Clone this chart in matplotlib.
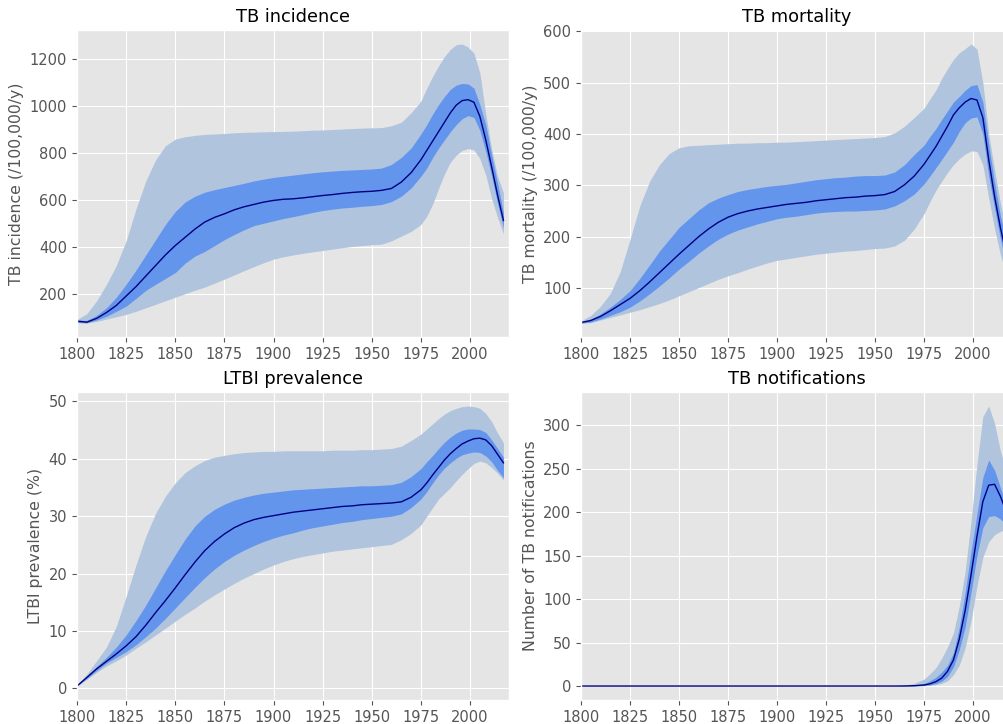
import matplotlib
matplotlib.use("Agg")
import matplotlib.pyplot as plt

plt.style.use("ggplot")

# model output: median, 50% and 95% credible intervals
years = list(range(1800, 1976, 5)) + list(range(1978, 2018, 3))

inc_mid = [83, 79, 95, 120, 150, 190, 230, 275, 320, 365,
           405, 440, 475, 505, 525, 540, 557, 570, 580, 590,
           597, 602, 604, 608, 613, 618, 622, 627, 631, 634,
           636, 640, 648, 675, 715, 770, 810, 850, 890, 930,
           970, 1003, 1022, 1026, 1015, 955, 855, 740, 620, 512]
inc_hi50 = [88, 86, 108, 140, 185, 240, 300, 365, 430, 495,
            550, 590, 615, 632, 643, 652, 661, 670, 680, 688,
            695, 700, 705, 710, 715, 719, 722, 725, 727, 729,
            731, 735, 750, 780, 820, 880, 920, 965, 1005, 1040,
            1070, 1088, 1095, 1093, 1075, 1005, 920, 790, 670, 545]
inc_lo50 = [78, 76, 88, 104, 125, 147, 180, 214, 240, 265,
            290, 330, 360, 380, 405, 430, 452, 472, 490, 500,
            510, 520, 528, 537, 546, 554, 560, 565, 568, 572,
            575, 580, 592, 615, 650, 700, 735, 780, 820, 855,
            890, 920, 945, 958, 950, 895, 805, 700, 585, 480]
inc_hi95 = [90, 115, 170, 240, 320, 425, 560, 680, 770, 830,
            858, 868, 874, 878, 880, 882, 885, 887, 888, 889,
            890, 891, 892, 894, 896, 897, 899, 901, 903, 905,
            906, 907, 915, 930, 970, 1020, 1075, 1125, 1170, 1210,
            1240, 1260, 1263, 1250, 1224, 1140, 965, 815, 700, 630]
inc_lo95 = [76, 75, 82, 92, 102, 112, 125, 140, 155, 170,
            185, 200, 215, 228, 245, 262, 280, 298, 315, 332,
            347, 357, 365, 372, 378, 384, 390, 396, 401, 405,
            408, 411, 425, 445, 465, 495, 530, 582, 648, 710,
            760, 790, 810, 818, 812, 775, 705, 605, 525, 455]

mort_mid = [33, 37, 45, 56, 68, 80, 95, 112, 130, 148,
            166, 183, 200, 215, 228, 238, 245, 250, 254, 257,
            260, 263, 265, 267, 270, 272, 274, 276, 277, 279,
            280, 282, 288, 301, 318, 341, 358, 375, 395, 415,
            437, 451, 462, 469, 466, 432, 350, 278, 217, 165]
mort_hi50 = [35, 40, 50, 63, 78, 95, 119, 145, 172, 195,
             218, 235, 252, 266, 275, 282, 288, 292, 295, 298,
             300, 302, 305, 308, 311, 313, 315, 316, 318, 319,
             319, 320, 326, 340, 360, 378, 395, 410, 428, 445,
             462, 473, 485, 494, 496, 462, 380, 305, 240, 190]
mort_lo50 = [32, 34, 40, 47, 54, 63, 75, 89, 104, 120,
             137, 152, 168, 182, 195, 205, 213, 219, 225, 230,
             235, 238, 240, 243, 246, 248, 249, 250, 250, 251,
             252, 254, 260, 270, 283, 303, 318, 334, 350, 367,
             384, 405, 422, 431, 433, 400, 318, 255, 195, 145]
mort_hi95 = [36, 47, 65, 90, 132, 195, 260, 308, 340, 362,
             373, 377, 378, 379, 380, 381, 382, 382, 383, 383,
             384, 384, 385, 386, 387, 388, 389, 390, 391, 392,
             393, 395, 402, 415, 432, 450, 468, 485, 508, 527,
             545, 558, 566, 575, 565, 500, 400, 330, 265, 210]
mort_lo95 = [32, 33, 38, 43, 48, 53, 58, 64, 70, 77,
             85, 93, 101, 109, 117, 124, 130, 137, 143, 149,
             154, 157, 160, 163, 166, 168, 170, 172, 173, 175,
             177, 178, 182, 193, 215, 245, 268, 290, 308, 325,
             340, 352, 361, 367, 366, 340, 275, 215, 165, 125]

ltbi_mid = [0.4, 1.9, 3.4, 4.7, 6.0, 7.4, 9.0, 11.0, 13.2, 15.3,
            17.5, 19.8, 22.0, 24.0, 25.6, 26.9, 28.0, 28.8, 29.4, 29.8,
            30.1, 30.4, 30.7, 30.9, 31.1, 31.3, 31.5, 31.7, 31.8, 32.0,
            32.1, 32.2, 32.3, 32.5, 33.3, 34.6, 35.8, 37.2, 38.5, 39.8,
            40.9, 41.8, 42.6, 43.1, 43.5, 43.6, 43.3, 42.3, 40.8, 39.3]
ltbi_hi50 = [0.5, 2.1, 3.8, 5.4, 7.2, 9.3, 11.8, 14.5, 17.5, 20.5,
             23.3, 26.0, 28.3, 30.0, 31.2, 32.1, 32.8, 33.3, 33.7, 34.0,
             34.2, 34.4, 34.6, 34.7, 34.8, 34.9, 35.0, 35.1, 35.2, 35.3,
             35.3, 35.4, 35.5, 35.9, 36.9, 38.3, 39.5, 40.6, 41.8, 42.9,
             43.8, 44.5, 45.0, 45.2, 45.2, 45.1, 44.6, 43.3, 41.8, 40.3]
ltbi_lo50 = [0.4, 1.7, 3.1, 4.4, 5.4, 6.4, 7.6, 9.0, 10.5, 12.2,
             14.0, 15.8, 17.6, 19.3, 20.8, 22.1, 23.2, 24.1, 24.9, 25.6,
             26.2, 26.7, 27.1, 27.6, 28.0, 28.3, 28.6, 28.9, 29.1, 29.4,
             29.6, 29.8, 30.0, 30.4, 31.5, 33.0, 34.3, 35.8, 37.2, 38.4,
             39.3, 40.1, 40.7, 41.0, 41.2, 41.1, 40.5, 39.5, 38.0, 36.7]
ltbi_hi95 = [0.5, 2.5, 4.8, 7.2, 10.8, 16.0, 21.5, 26.5, 30.5, 33.5,
             35.8, 37.6, 38.8, 39.7, 40.3, 40.6, 40.9, 41.1, 41.2, 41.3,
             41.3, 41.4, 41.4, 41.4, 41.4, 41.4, 41.5, 41.5, 41.5, 41.6,
             41.6, 41.7, 41.8, 42.2, 43.2, 44.3, 45.2, 46.1, 47.0, 47.8,
             48.4, 48.8, 49.1, 49.2, 49.1, 48.8, 47.9, 46.5, 44.5, 42.8]
ltbi_lo95 = [0.4, 1.6, 2.8, 3.9, 4.8, 5.8, 7.0, 8.1, 9.3, 10.5,
             11.7, 12.9, 14.0, 15.2, 16.3, 17.3, 18.3, 19.2, 20.0, 20.8,
             21.5, 22.1, 22.6, 23.0, 23.3, 23.6, 23.9, 24.1, 24.3, 24.5,
             24.7, 24.9, 25.1, 25.9, 27.0, 28.5, 30.0, 31.5, 33.0, 34.0,
             35.0, 36.2, 37.3, 38.3, 39.2, 39.6, 39.3, 38.5, 37.5, 36.3]

notif_mid = [0, 0, 0, 0, 0, 0, 0, 0, 0, 0,
             0, 0, 0, 0, 0, 0, 0, 0, 0, 0,
             0, 0, 0, 0, 0, 0, 0, 0, 0, 0,
             0, 0, 0, 0.1, 0.4, 1.2, 2.5, 5, 9, 17,
             30, 54, 87, 128, 172, 212, 231, 232, 218, 200]
notif_hi50 = [0, 0, 0, 0, 0, 0, 0, 0, 0, 0,
              0, 0, 0, 0, 0, 0, 0, 0, 0, 0,
              0, 0, 0, 0, 0, 0, 0, 0, 0, 0,
              0, 0, 0, 0.3, 1, 3, 6, 10, 16, 24,
              38, 68, 108, 155, 198, 240, 260, 248, 228, 208]
notif_lo50 = [0, 0, 0, 0, 0, 0, 0, 0, 0, 0,
              0, 0, 0, 0, 0, 0, 0, 0, 0, 0,
              0, 0, 0, 0, 0, 0, 0, 0, 0, 0,
              0, 0, 0, 0, 0.2, 0.6, 1.3, 2.8, 5.5, 11,
              22, 42, 68, 108, 150, 182, 195, 196, 192, 185]
notif_hi95 = [0, 0, 0, 0, 0, 0, 0, 0, 0, 0,
              0, 0, 0, 0, 0, 0, 0, 0, 0, 0,
              0, 0, 0, 0, 0, 0, 0, 0, 0, 0,
              0, 0, 0.2, 1, 3, 8, 14, 21, 32, 45,
              61, 92, 132, 190, 255, 310, 322, 302, 270, 248]
notif_lo95 = [0, 0, 0, 0, 0, 0, 0, 0, 0, 0,
              0, 0, 0, 0, 0, 0, 0, 0, 0, 0,
              0, 0, 0, 0, 0, 0, 0, 0, 0, 0,
              0, 0, 0, 0, 0.1, 0.3, 0.8, 1.5, 3, 6,
              13, 24, 44, 75, 115, 148, 166, 174, 178, 180]

panels = [
    ("TB incidence", "TB incidence (/100,000/y)",
     inc_mid, inc_lo50, inc_hi50, inc_lo95, inc_hi95),
    ("TB mortality", "TB mortality (/100,000/y)",
     mort_mid, mort_lo50, mort_hi50, mort_lo95, mort_hi95),
    ("LTBI prevalence", "LTBI prevalence (%)",
     ltbi_mid, ltbi_lo50, ltbi_hi50, ltbi_lo95, ltbi_hi95),
    ("TB notifications", "Number of TB notifications",
     notif_mid, notif_lo50, notif_hi50, notif_lo95, notif_hi95),
]

fig = plt.figure(figsize=(10.04, 7.24), dpi=100)
# the right-hand column runs past the edge of the canvas
boxes = [
    [0.0767, 0.5345, 0.4306, 0.4240],
    [0.5787, 0.5345, 0.4295, 0.4240],
    [0.0767, 0.0331, 0.4306, 0.4254],
    [0.5787, 0.0331, 0.4295, 0.4254],
]

for box, (title, ylabel, mid, lo50, hi50, lo95, hi95) in zip(boxes, panels):
    ax = fig.add_axes(box)
    ax.fill_between(years, lo95, hi95, color="#b0c4de", linewidth=0)
    ax.fill_between(years, lo50, hi50, color="#6495ed", linewidth=0)
    ax.plot(years, mid, color="navy", linewidth=1.0)
    ax.set_xlim(1800, 2020)
    ax.set_xticks(range(1800, 2001, 25))
    ax.set_title(title, fontsize=12.8)
    ax.set_ylabel(ylabel, fontsize=11.3)
    ax.tick_params(labelsize=10.5)

fig.savefig("out.png", dpi=100)
